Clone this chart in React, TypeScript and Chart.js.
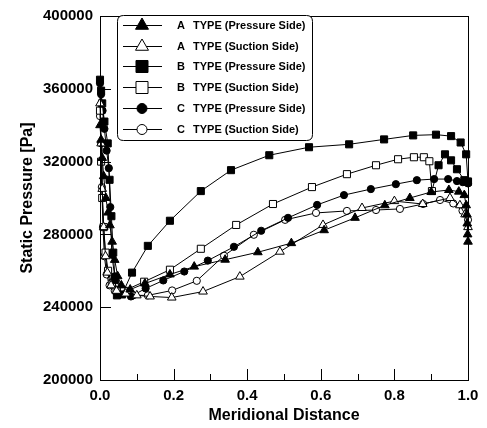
import React, { useEffect, useRef } from 'react';
import { Chart, registerables } from 'chart.js';

Chart.register(...registerables);

const FONT = '"Liberation Sans", Arial, Helvetica, sans-serif';

// ---- data ----
const seriesLetters = ['A', 'A', 'B', 'B', 'C', 'C'];
const seriesSides = [
  'TYPE (Pressure Side)',
  'TYPE (Suction Side)',
  'TYPE (Pressure Side)',
  'TYPE (Suction Side)',
  'TYPE (Pressure Side)',
  'TYPE (Suction Side)',
];

const aPressureX = [0, 0.003, 0.006, 0.01, 0.016, 0.022, 0.027, 0.033, 0.04, 0.048, 0.058, 0.082, 0.122, 0.19, 0.256, 0.34, 0.429, 0.52, 0.609, 0.693, 0.774, 0.842, 0.9, 0.948, 0.975, 0.99, 0.995, 0.997, 0.998, 0.999, 1.0];
const aPressureY = [340000, 332000, 322000, 312000, 300000, 292000, 285000, 276000, 266000, 257000, 252000, 249700, 253000, 258000, 262300, 266100, 270200, 275200, 282300, 289100, 296000, 300000, 303300, 304400, 303500, 301600, 296000, 291000, 286000, 280000, 276000];

const aSuctionX = [0, 0.003, 0.006, 0.01, 0.015, 0.02, 0.03, 0.045, 0.07, 0.1, 0.136, 0.195, 0.28, 0.38, 0.489, 0.606, 0.712, 0.8, 0.877, 0.951, 0.978, 0.992, 1.0];
const aSuctionY = [352000, 330000, 305000, 284000, 268000, 259000, 252000, 249000, 247500, 246500, 245900, 245300, 248600, 256800, 270500, 285200, 294500, 298300, 296700, 300000, 296000, 291000, 284000];

const bPressureX = [0, 0.003, 0.006, 0.012, 0.021, 0.026, 0.031, 0.036, 0.041, 0.046, 0.06, 0.087, 0.13, 0.19, 0.274, 0.356, 0.46, 0.568, 0.677, 0.772, 0.851, 0.913, 0.954, 0.98, 0.995, 1.0];
const bPressureY = [365000, 359000, 352000, 342000, 330000, 310000, 290000, 270000, 255000, 246500, 247000, 259000, 273700, 287500, 303800, 315300, 323500, 327900, 329500, 332200, 334400, 334800, 334000, 330500, 324000, 309000];

const bSuctionX = [0, 0.003, 0.006, 0.01, 0.015, 0.022, 0.032, 0.045, 0.065, 0.12, 0.19, 0.274, 0.37, 0.47, 0.576, 0.671, 0.75, 0.81, 0.853, 0.88, 0.895, 0.902, 0.92, 0.9375, 0.954, 0.97, 0.99, 1.0];
const bSuctionY = [348000, 320000, 300000, 284000, 270000, 260000, 253000, 249500, 249000, 254000, 260600, 272100, 285200, 296700, 306000, 313100, 318000, 321300, 322400, 322400, 320200, 303800, 318000, 324000, 320700, 315800, 309800, 309000];
// trailing-edge points of the B suction line drawn with filled markers in the reference
const bSuctionFilledFrom = 22;

const cPressureX = [0, 0.003, 0.007, 0.012, 0.018, 0.024, 0.028, 0.032, 0.04, 0.055, 0.084, 0.124, 0.172, 0.229, 0.293, 0.364, 0.438, 0.511, 0.59, 0.663, 0.736, 0.804, 0.861, 0.908, 0.946, 0.97, 0.986, 1.0];
const cPressureY = [363000, 357000, 348000, 338000, 326000, 316400, 295000, 268800, 257000, 250000, 245900, 250300, 254700, 259600, 265600, 273200, 282000, 289100, 296200, 301600, 304900, 307600, 309800, 310400, 310400, 309300, 308700, 308000];

const cSuctionX = [0, 0.003, 0.005, 0.008, 0.012, 0.018, 0.026, 0.04, 0.06, 0.09, 0.13, 0.196, 0.263, 0.337, 0.418, 0.503, 0.587, 0.671, 0.75, 0.815, 0.878, 0.924, 0.96, 0.985, 1.0];
const cSuctionY = [345000, 330000, 306000, 284000, 268000, 258000, 252000, 249000, 247500, 246500, 246500, 249200, 254500, 268300, 279800, 288000, 291800, 292900, 293400, 294000, 296700, 298900, 297000, 293000, 288000];

const xMajorTicks = [0, 0.2, 0.4, 0.6, 0.8, 1.0];
const xMinorTicks = [0.1, 0.3, 0.5, 0.7, 0.9];
const yMajorTicks = [200000, 240000, 280000, 320000, 360000, 400000];

const toPoints = (xs: number[], ys: number[]) => xs.map((x, i) => ({ x, y: ys[i] }));

type Style = { shape: 'triangle' | 'rect' | 'circle'; filled: boolean };
const styles: Style[] = [
  { shape: 'triangle', filled: true },
  { shape: 'triangle', filled: false },
  { shape: 'rect', filled: true },
  { shape: 'rect', filled: false },
  { shape: 'circle', filled: true },
  { shape: 'circle', filled: false },
];
const plotRadius: Record<string, number> = { triangle: 5, rect: 5, circle: 3.6 };

function drawMarker(ctx: CanvasRenderingContext2D, shape: string, filled: boolean, x: number, y: number, r: number) {
  ctx.beginPath();
  if (shape === 'triangle') {
    let rad = 0;
    ctx.moveTo(x + Math.sin(rad) * r, y - Math.cos(rad) * r);
    rad += (2 * Math.PI) / 3;
    ctx.lineTo(x + Math.sin(rad) * r, y - Math.cos(rad) * r);
    rad += (2 * Math.PI) / 3;
    ctx.lineTo(x + Math.sin(rad) * r, y - Math.cos(rad) * r);
    ctx.closePath();
  } else if (shape === 'rect') {
    const s = Math.SQRT1_2 * r;
    ctx.rect(x - s, y - s, 2 * s, 2 * s);
  } else {
    ctx.arc(x, y, r, 0, Math.PI * 2);
  }
  ctx.fillStyle = filled ? '#000' : '#fff';
  ctx.fill();
  ctx.strokeStyle = '#000';
  ctx.lineWidth = 1;
  ctx.stroke();
}

const framePlugin = {
  id: 'frameTicks',
  afterDatasetsDraw(chart: any) {
    const { ctx, chartArea, scales } = chart;
    const { left, right, top, bottom } = chartArea;
    ctx.save();
    ctx.strokeStyle = '#000';
    ctx.lineWidth = 1;
    ctx.strokeRect(Math.round(left) + 0.5, Math.round(top) + 0.5, Math.round(right - left), Math.round(bottom - top));
    ctx.beginPath();
    yMajorTicks.forEach((v) => {
      const py = Math.round(scales.y.getPixelForValue(v)) + 0.5;
      ctx.moveTo(left, py);
      ctx.lineTo(left + 11, py);
    });
    xMajorTicks.forEach((v) => {
      const px = Math.round(scales.x.getPixelForValue(v)) + 0.5;
      ctx.moveTo(px, bottom);
      ctx.lineTo(px, bottom - 11);
    });
    xMinorTicks.forEach((v) => {
      const px = Math.round(scales.x.getPixelForValue(v)) + 0.5;
      ctx.moveTo(px, bottom);
      ctx.lineTo(px, bottom - 6);
    });
    ctx.stroke();
    ctx.restore();
  },
};

const legendPlugin = {
  id: 'boxLegend',
  afterDraw(chart: any) {
    const { ctx } = chart;
    const bx = 117.5, by = 15.5, bw = 195, bh = 125, rr = 6;
    ctx.save();
    ctx.beginPath();
    ctx.moveTo(bx + rr, by);
    ctx.lineTo(bx + bw - rr, by);
    ctx.quadraticCurveTo(bx + bw, by, bx + bw, by + rr);
    ctx.lineTo(bx + bw, by + bh - rr);
    ctx.quadraticCurveTo(bx + bw, by + bh, bx + bw - rr, by + bh);
    ctx.lineTo(bx + rr, by + bh);
    ctx.quadraticCurveTo(bx, by + bh, bx, by + bh - rr);
    ctx.lineTo(bx, by + rr);
    ctx.quadraticCurveTo(bx, by, bx + rr, by);
    ctx.closePath();
    ctx.fillStyle = '#fff';
    ctx.fill();
    ctx.strokeStyle = '#000';
    ctx.lineWidth = 1;
    ctx.stroke();

    const legendRadius: Record<string, number> = { triangle: 7.5, rect: 8.5, circle: 5 };
    chart.data.datasets.forEach((ds: any, i: number) => {
      const y = Math.round(25 + i * 20.7) + 0.5;
      const st = styles[i];
      ctx.beginPath();
      ctx.moveTo(123, y);
      ctx.lineTo(162, y);
      ctx.strokeStyle = '#000';
      ctx.lineWidth = 1;
      ctx.stroke();
      drawMarker(ctx, st.shape, st.filled, 142, y, legendRadius[st.shape]);
      ctx.fillStyle = '#000';
      ctx.font = `bold 11px ${FONT}`;
      ctx.textBaseline = 'middle';
      ctx.textAlign = 'left';
      ctx.fillText(seriesLetters[i], 177, y);
      ctx.fillText(seriesSides[i], 193, y);
    });
    ctx.restore();
  },
};

export default function App() {
  const ref = useRef<HTMLCanvasElement>(null);

  useEffect(() => {
    const canvas = ref.current;
    if (!canvas) return;

    const mk = (label: string, xs: number[], ys: number[], st: Style, filledFrom?: number) => ({
      label,
      data: toPoints(xs, ys),
      borderColor: '#000',
      borderWidth: 1,
      pointStyle: st.shape,
      pointRadius: plotRadius[st.shape],
      pointBorderColor: '#000',
      pointBorderWidth: 1,
      pointBackgroundColor:
        filledFrom !== undefined
          ? xs.map((_, i) => (i >= filledFrom ? '#000' : '#fff'))
          : st.filled ? '#000' : '#fff',
      backgroundColor: st.filled ? '#000' : '#fff',
      fill: false,
      tension: 0,
      clip: false as any,
    });

    const chart = new Chart(canvas, {
      type: 'line',
      data: {
        datasets: [
          mk('A TYPE (Pressure Side)', aPressureX, aPressureY, styles[0]),
          mk('A TYPE (Suction Side)', aSuctionX, aSuctionY, styles[1]),
          mk('B TYPE (Pressure Side)', bPressureX, bPressureY, styles[2]),
          mk('B TYPE (Suction Side)', bSuctionX, bSuctionY, styles[3], bSuctionFilledFrom),
          mk('C TYPE (Pressure Side)', cPressureX, cPressureY, styles[4]),
          mk('C TYPE (Suction Side)', cSuctionX, cSuctionY, styles[5]),
        ] as any,
      },
      options: {
        animation: false,
        responsive: false,
        maintainAspectRatio: false,
        devicePixelRatio: 1,
        layout: { padding: { top: 14, right: 19, left: 0, bottom: 0 } },
        plugins: {
          legend: { display: false },
          tooltip: { enabled: false },
        },
        scales: {
          x: {
            type: 'linear',
            min: 0,
            max: 1,
            grid: { display: false, drawTicks: false },
            border: { display: false },
            ticks: {
              stepSize: 0.2,
              autoSkip: false,
              maxRotation: 0,
              padding: 7,
              color: '#000',
              font: { family: FONT, size: 15, weight: 'bold' },
              callback: (v: any) => Number(v).toFixed(1),
            },
            title: {
              display: true,
              text: 'Meridional Distance',
              color: '#000',
              font: { family: FONT, size: 16, weight: 'bold' },
              padding: { top: 0, bottom: 3 },
            },
            afterFit: (s: any) => {
              s.height = 48;
            },
          },
          y: {
            type: 'linear',
            min: 200000,
            max: 400000,
            grid: { display: false, drawTicks: false },
            border: { display: false },
            ticks: {
              stepSize: 40000,
              padding: 7,
              color: '#000',
              font: { family: FONT, size: 15, weight: 'bold' },
              callback: (v: any) => String(v),
            },
            title: {
              display: true,
              text: 'Static Pressure [Pa]',
              color: '#000',
              font: { family: FONT, size: 16, weight: 'bold' },
              padding: { top: 18, bottom: 0 },
            },
            afterFit: (s: any) => {
              s.width = 100;
            },
          },
        },
      } as any,
      plugins: [framePlugin, legendPlugin],
    });

    return () => chart.destroy();
  }, []);

  return (
    <div style={{ position: 'fixed', left: 0, top: 0, width: 487, height: 428, background: '#fff' }}>
      <canvas ref={ref} width={487} height={428} style={{ display: 'block', width: 487, height: 428 }} />
    </div>
  );
}
